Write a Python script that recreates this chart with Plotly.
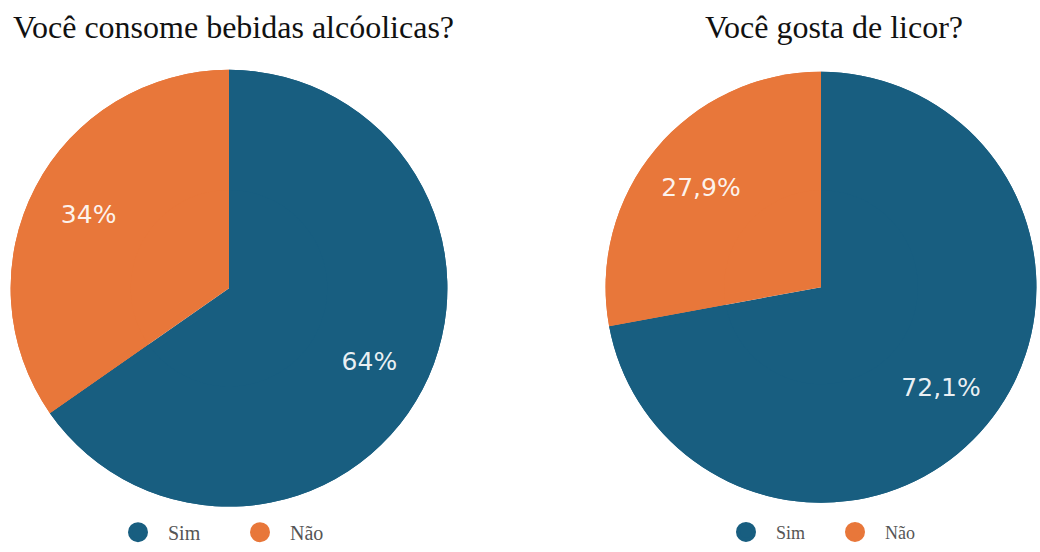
import plotly.graph_objects as go

# Survey answers
labels = ["Sim", "Não"]
alcool_values = [64, 34]
alcool_text = ["64%", "34%"]
licor_values = [72.1, 27.9]
licor_text = ["72,1%", "27,9%"]

titles = ["Você consome bebidas alcóolicas?", "Você gosta de licor?"]
colors = ["#185E80", "#E8773A"]

W, H = 1040, 552

fig = go.Figure()

base = dict(
    labels=labels,
    sort=False,
    direction="clockwise",
    rotation=0,
    marker=dict(colors=colors, line=dict(width=0)),
    showlegend=False,
)

domains = [
    dict(x=[7 / W, 451 / W], y=[1 - 515 / H, 1 - 71 / H]),
    dict(x=[602 / W, 1.0], y=[1 - 511 / H, 1 - 73 / H]),
]

for values, text, dom in [(alcool_values, alcool_text, domains[0]),
                          (licor_values, licor_text, domains[1])]:
    # solid disc underneath
    fig.add_trace(go.Pie(values=values, domain=dom, textinfo="none",
                         hoverinfo="skip", **base))
    # ring on top carries the percentage labels out toward the rim
    fig.add_trace(go.Pie(
        values=values, text=text, domain=dom, hole=0.45,
        textinfo="text", textposition="inside",
        insidetextorientation="horizontal",
        textfont=dict(family="DejaVu Sans", size=25, color="rgba(255,255,255,0.92)"),
        hoverinfo="label+percent",
        **base,
    ))

# Circle legend entries for each chart
for legend_id in ["legend", "legend2"]:
    for lab, col in zip(labels, colors):
        fig.add_trace(go.Scatter(
            x=[None], y=[None], mode="markers", name=lab,
            marker=dict(symbol="circle", size=16, color=col,
                        line=dict(width=4, color=col)),
            legend=legend_id, showlegend=True, hoverinfo="skip",
        ))

legend_style = dict(
    orientation="h",
    xanchor="center",
    yanchor="middle",
    y=1 - 541 / H,
    bgcolor="rgba(0,0,0,0)",
    itemclick=False,
    itemdoubleclick=False,
    itemwidth=50,
)

fig.update_layout(
    width=W, height=H,
    margin=dict(l=0, r=0, t=0, b=0),
    paper_bgcolor="white",
    plot_bgcolor="white",
    xaxis=dict(visible=False),
    yaxis=dict(visible=False),
    legend=dict(x=230 / W, entrywidth=57,
                font=dict(family="Liberation Serif", size=20, color="#555555"),
                **legend_style),
    legend2=dict(x=825 / W, entrywidth=44,
                 font=dict(family="Liberation Serif", size=18, color="#555555"),
                 **legend_style),
    annotations=[
        dict(text=titles[0], x=233 / W, y=1 - 27 / H, xref="paper", yref="paper",
             xanchor="center", yanchor="middle", showarrow=False,
             font=dict(family="Liberation Serif", size=32, color="#111111")),
        dict(text=titles[1], x=834 / W, y=1 - 27 / H, xref="paper", yref="paper",
             xanchor="center", yanchor="middle", showarrow=False,
             font=dict(family="Liberation Serif", size=32, color="#111111")),
    ],
)

fig.write_html("out.html")
